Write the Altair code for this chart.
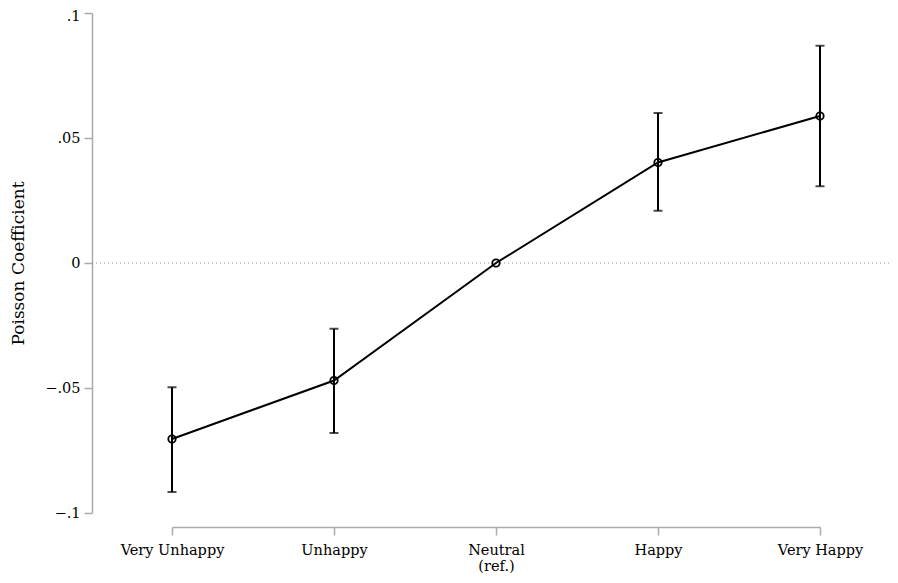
import altair as alt
import pandas as pd

categories = ["Very Unhappy", "Unhappy", "Neutral", "Happy", "Very Happy"]
coef = [-0.0704, -0.0470, 0.0, 0.0402, 0.0588]
ci_low = [-0.0916, -0.0680, 0.0, 0.0209, 0.0307]
ci_high = [-0.0497, -0.0263, 0.0, 0.0600, 0.0869]
y_ticks = [-0.1, -0.05, 0.0, 0.05, 0.1]

df = pd.DataFrame({"cat": categories, "coef": coef, "lo": ci_low, "hi": ci_high})
zero_df = pd.DataFrame({"y": [0.0]})

W, H = 648, 500
FONT = "DejaVu Serif"
AXIS_GRAY = "#ababab"

x_enc = alt.X(
    "cat:N",
    sort=categories,
    scale=alt.Scale(type="point", padding=0),
    axis=alt.Axis(
        title=None,
        labelAngle=0,
        offset=14,
        tickSize=8,
        labelPadding=8,
        labelFontSize=14.5,
        labelLineHeight=16,
        labelFont=FONT,
        labelColor="black",
        domainColor=AXIS_GRAY,
        tickColor=AXIS_GRAY,
        domainWidth=1.5,
        tickWidth=1.5,
        labelExpr="datum.value == 'Neutral' ? ['Neutral', '(ref.)'] : datum.value",
    ),
)
y_scale = alt.Scale(domain=[-0.1, 0.1], nice=False, zero=False)
y_axis = alt.Axis(
    values=y_ticks,
    title="Poisson Coefficient",
    titleFont=FONT,
    titleFontSize=17,
    titleFontWeight="normal",
    titleColor="black",
    titlePadding=17,
    offset=80,
    tickSize=8,
    labelPadding=4,
    labelFontSize=14.5,
    labelFont=FONT,
    labelColor="black",
    labelOffset={"condition": {"test": "datum.value >= 0.1", "value": 3}, "value": 0},
    domainColor=AXIS_GRAY,
    tickColor=AXIS_GRAY,
    domainWidth=1.5,
    tickWidth=1.5,
    grid=False,
    labelExpr="datum.value == 0 ? '0' : replace(format(datum.value, '.2~f'), '0.', '.')",
)

base = alt.Chart(df)

zero_line = alt.Chart(zero_df).mark_rule(
    color="#9a9a9a", strokeDash=[1, 3], strokeWidth=1
).encode(
    y=alt.Y("y:Q", scale=y_scale, axis=y_axis),
    x=alt.value(-80),
    x2=alt.value(718),
)

line = base.mark_line(color="black", strokeWidth=2).encode(
    x=x_enc, y=alt.Y("coef:Q", scale=y_scale, axis=y_axis)
)

bars = base.mark_rule(color="black", strokeWidth=2).encode(
    x=x_enc, y=alt.Y("lo:Q", scale=y_scale, axis=y_axis), y2="hi:Q"
)

caps_lo = base.transform_filter("datum.lo != datum.hi").mark_tick(
    color="black", orient="horizontal", size=9, thickness=2
).encode(x=x_enc, y=alt.Y("lo:Q", scale=y_scale, axis=y_axis))

caps_hi = base.transform_filter("datum.lo != datum.hi").mark_tick(
    color="black", orient="horizontal", size=9, thickness=2
).encode(x=x_enc, y=alt.Y("hi:Q", scale=y_scale, axis=y_axis))

points = base.mark_point(
    filled=False, color="black", size=55, strokeWidth=1.8, opacity=1
).encode(x=x_enc, y=alt.Y("coef:Q", scale=y_scale, axis=y_axis))

chart = (
    alt.layer(zero_line, line, bars, caps_lo, caps_hi, points)
    .properties(
        width=W,
        height=H,
        autosize=alt.AutoSizeParams(type="none"),
        padding={"left": 164, "top": 5, "right": 70, "bottom": 62},
        background="white",
    )
    .configure_view(stroke=None)
)

chart.save("out.html", embed_options={"renderer": "svg", "actions": False})
